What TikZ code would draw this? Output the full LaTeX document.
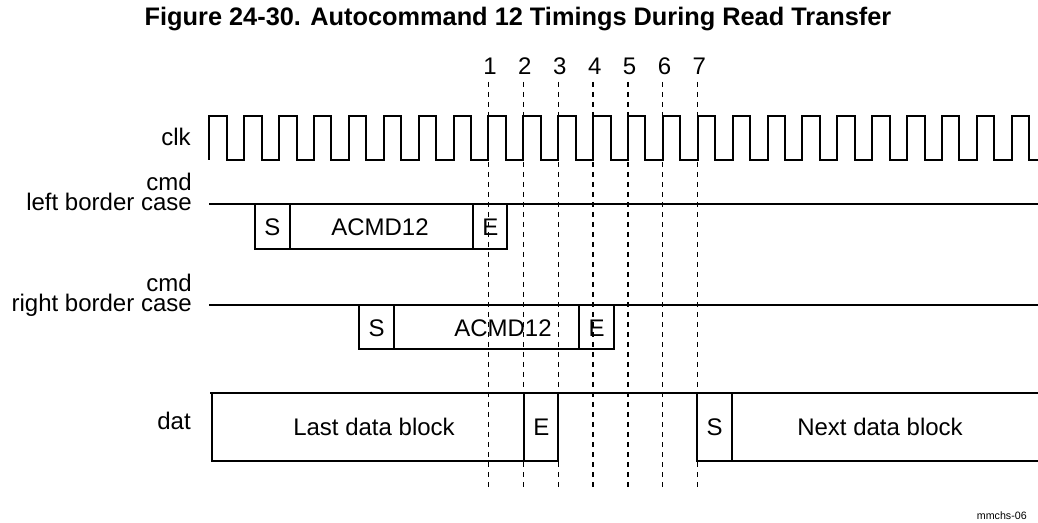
\documentclass[tikz,border=0pt]{standalone}
\usepackage{fontspec}
\setmainfont{Liberation Sans}
\usetikzlibrary{positioning}
\begin{document}
\begin{tikzpicture}[x=0.75pt,y=-0.75pt,
  sig/.style={line width=1.5pt},
  mark line/.style={line width=0.9pt,dash pattern=on 3.75pt off 3.75pt},
  lbl/.style={font=\fontsize{18}{15}\selectfont,inner sep=0pt,anchor=base east,align=right},
  txt/.style={font=\fontsize{18}{20}\selectfont,inner sep=0pt}]
\useasboundingbox (0,0) rectangle (1038,523);
% 标题
\node[font=\bfseries\fontsize{19}{20}\selectfont,anchor=base,inner sep=0pt] (title) at (518,26)
  {Figure 24-30. Autocommand 12 Timings During Read Transfer};
% 左侧信号名
\node[lbl] (clk) at (191,146) {clk};
\node[lbl] (cmdA) at (192,211) {cmd\\left border case};
\node[lbl] (cmdB) at (192,312) {cmd\\right border case};
\node[lbl] (dat) at (191,430) {dat};
% 时钟
\def\per{34.89}
\draw[sig] (209.3,160) \foreach \i in {0,...,22}{ -- ++(0,-44) -- ++(\per/2,0) -- ++(0,44) -- ++(\per/2,0)}
  -- ++(0,-44) -- ++(\per/2,0) -- ++(0,44) -- (1038,160);
% 时刻标记 1--7
\foreach \k in {1,...,7}{
  \coordinate (t\k) at ({488.4+(\k-1)*\per},82);
  \coordinate (b\k) at ({488.4+(\k-1)*\per},487);
  \node[txt,anchor=base] (n\k) at ({490+(\k-1)*\per},75) {\k};
  \draw[mark line] (t\k)--(b\k);
}
% cmd 左边界情形
\draw[sig] (209,204)--(1038,204);
\draw[sig] (254.7,204) rectangle (290.3,249);
\draw[sig] (290.3,204) rectangle (473.3,249);
\draw[sig] (473.3,204) rectangle (507.3,249);
\node[txt] (sA) at (272.5,227) {S};
\node[txt] (acmdA) at (380,227) {ACMD12};
\node[txt] (eA) at (490.3,227) {E};
% cmd 右边界情形
\draw[sig] (209,305)--(1038,305);
\draw[sig] (359,305) rectangle (394,349);
\draw[sig] (394,305) rectangle (579,349);
\draw[sig] (579,305) rectangle (614,349);
\node[txt] (sB) at (376.5,328) {S};
\node[txt] (acmdB) at (503,328) {ACMD12};
\node[txt] (eB) at (596.5,328) {E};
% 数据线
\draw[sig] (210,393.3)--(1038,393.3);
\draw[sig] (211.7,393.3) rectangle (524.3,460.7);
\draw[sig] (524.3,393.3) rectangle (558.3,460.7);
\draw[sig] (697.3,393.3) |- (1038,460.7);
\draw[sig] (731.7,393.3)--(731.7,460.7);
\node[txt] (last) at (374,427) {Last data block};
\node[txt] (eD) at (541.3,427) {E};
\node[txt] (sD) at (714.5,427) {S};
\node[txt] (next) at (880,427) {Next data block};
% 图号
\node[font=\fontsize{8}{10}\selectfont,anchor=base east,inner sep=0pt] (fig) at (1027,519) {mmchs-06};
\end{tikzpicture}
\end{document}
